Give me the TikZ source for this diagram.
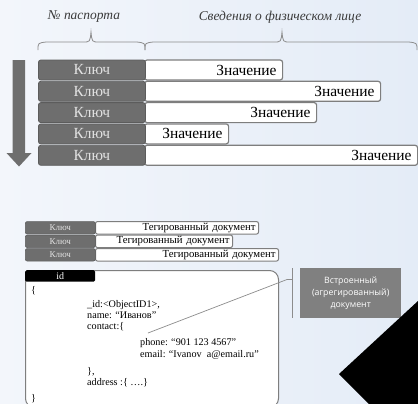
\documentclass[tikz,border=0pt]{standalone}
\usepackage{fontspec}
\setmainfont{Liberation Serif}
\newfontfamily\notefont{Open Sans}
\definecolor{bgleft}{HTML}{F3F6FB}
\definecolor{bgright}{HTML}{E4ECF7}
\definecolor{keyfill}{HTML}{6E6E6E}
\definecolor{keyedge}{HTML}{5C5C5C}
\definecolor{keytext}{HTML}{E2E2E2}
\definecolor{valedge}{HTML}{7E7E7E}
\definecolor{linegray}{HTML}{8C8C8C}
\definecolor{notefill}{HTML}{808080}
\definecolor{headtext}{HTML}{3A3A3A}
\begin{document}
\begin{tikzpicture}[x=1bp,y=-1bp,
  keybig/.style={draw=keyedge, fill=keyfill, rounded corners=2.5bp, line width=0.8bp,
    minimum width=107bp, minimum height=20bp, inner sep=0pt, anchor=west,
    text=keytext, font=\fontsize{15.5}{15.5}\selectfont},
  valbig/.style={draw=valedge, fill=white, rounded corners=2.5bp, line width=1.2bp,
    minimum height=20bp, inner xsep=6bp, inner ysep=0pt, anchor=west, align=right,
    font=\fontsize{15.5}{15.5}\selectfont},
  keysmall/.style={draw=keyedge, fill=keyfill, rounded corners=2bp, line width=0.6bp,
    minimum width=70bp, minimum height=12.5bp, inner sep=0pt, anchor=west,
    text=keytext, font=\fontsize{9}{9}\selectfont},
  valsmall/.style={draw=valedge, fill=white, rounded corners=2bp, line width=1bp,
    minimum height=12.5bp, inner xsep=3bp, inner ysep=0pt, anchor=west, align=right,
    font=\fontsize{10.8}{10.8}\selectfont},
  codeline/.style={anchor=base west, inner sep=0pt, font=\fontsize{10.2}{10.2}\selectfont},
  heading/.style={text=headtext, font=\fontsize{13.5}{13.5}\selectfont\itshape},
  bracestyle/.style={draw=linegray, line width=0.8bp},
]
% background
\useasboundingbox (0,0) rectangle (418,404);
\shade[left color=bgleft, right color=bgright] (0,0) rectangle (418,404);
\clip (0,0) rectangle (418,404);

% headings and braces
\node[heading] (hpass) at (84,17) {№ паспорта};
\node[heading] (hinfo) at (280,17) {Сведения о физическом лице};
\draw[bracestyle] (38,50) .. controls (38,43) .. (46,42) -- (83,42)
  .. controls (90,42) .. (91,32) .. controls (92,42) .. (99,42) -- (137,42)
  .. controls (145,43) .. (145,50);
\draw[bracestyle] (145,50) .. controls (145,43) .. (153,42) -- (274,42)
  .. controls (281,42) .. (282,32) .. controls (283,42) .. (290,42) -- (409,42)
  .. controls (417,43) .. (417,50);

% order arrow
\fill[keyfill] (12.7,60) -- (25,60) -- (25,153) -- (31.5,153) -- (19,166.5)
  -- (6.5,153) -- (12.7,153) -- cycle;

% key-value rows
\node[valbig, text width=126bp] (v1) at (144,70) {Значение};
\node[valbig, text width=224bp] (v2) at (144,91.3) {Значение};
\node[valbig, text width=160bp] (v3) at (144,112.6) {Значение};
\node[valbig, text width=72bp]  (v4) at (144,133.9) {Значение};
\node[valbig, text width=261bp] (v5) at (144,155.3) {Значение};
\node[keybig] (k1) at (38,70) {Ключ};
\node[keybig] (k2) at (38,91.3) {Ключ};
\node[keybig] (k3) at (38,112.6) {Ключ};
\node[keybig] (k4) at (38,133.9) {Ключ};
\node[keybig] (k5) at (38,155.3) {Ключ};

% tagged documents
\node[valsmall, text width=157bp] (t1) at (95,227.8) {Тегированный документ};
\node[valsmall, text width=131bp] (t2) at (95,241.3) {Тегированный документ};
\node[valsmall, text width=177bp] (t3) at (95,254.8) {Тегированный документ};
\node[keysmall] (s1) at (25,227.8) {Ключ};
\node[keysmall] (s2) at (25,241.3) {Ключ};
\node[keysmall] (s3) at (25,254.8) {Ключ};

% document frame
\node[draw=valedge, fill=white, line width=1bp, rounded corners=9bp, anchor=north west,
  minimum width=253bp, minimum height=137bp, inner sep=0pt] (doc) at (25,270) {};
\node[fill=black, text=white, anchor=north west, minimum width=70bp, minimum height=11.5bp,
  inner sep=0pt, rounded corners=1.5bp, font=\fontsize{10}{10}\selectfont] (idhead) at (25,270) {id};

\node[codeline] (c0) at (31,293.5) {\{};
\node[codeline] (c1) at (87,307.5) {\_id:<ObjectID1>,};
\node[codeline] (c2) at (87,318.5) {name: “Иванов”};
\node[codeline] (c3) at (87,329.5) {contact:\{};
\node[codeline] (c4) at (140,345) {phone: “901 123 4567”};
\node[codeline] (c5) at (140,357) {email: “Ivanov\ \ a@email.ru”};
\node[codeline] (c6) at (87,374.5) {\},};
\node[codeline] (c7) at (87,385.5) {address :\{ ….\}};
\node[codeline] (c8) at (31,401) {\}};

% embedded document note
\node[fill=notefill, text=white, anchor=north west, minimum width=101bp, minimum height=50bp,
  inner sep=0pt, align=center, font=\notefont\fontsize{8.8}{12}\selectfont] (note) at (300,268)
  {Встроенный\\(агрегированный)\\документ};
\coordinate (brtop) at (292,268);
\coordinate (brbot) at (292,318);
\coordinate (brmid) at (292,279.5);
\coordinate (tail) at (148,333);
\draw[draw=linegray, line width=0.8bp] (brtop) -- (brbot);
\draw[draw=linegray, line width=0.7bp] (tail) -- ([xshift=-5bp]brmid) -- (brmid);

% dark corner shape
\fill[black] (339,374) -- (418,301) -- (418,404) -- (369,404) -- cycle;
\end{tikzpicture}
\end{document}
